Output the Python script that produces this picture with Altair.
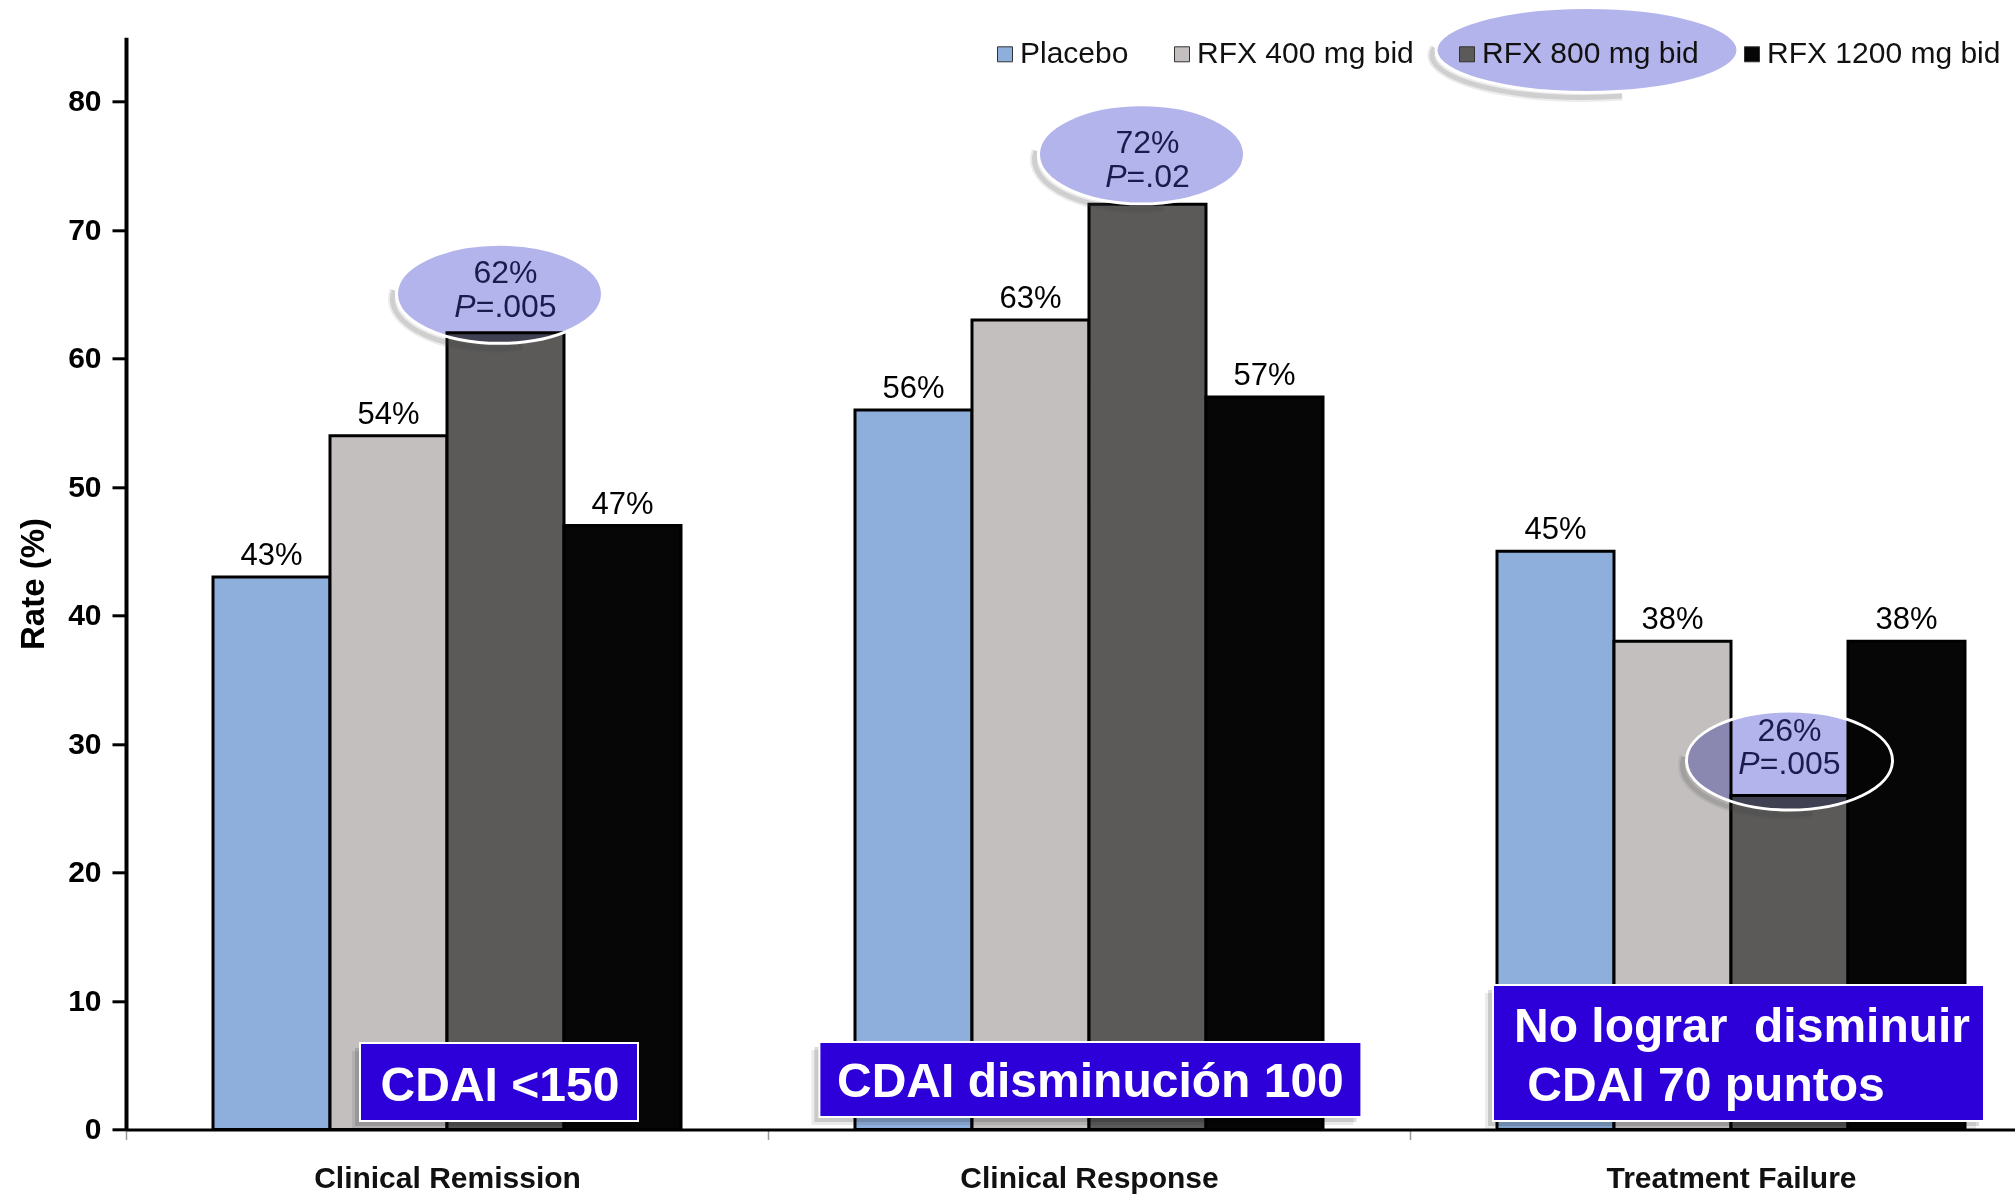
import math

import altair as alt
import pandas as pd

FONT = "Liberation Sans"
NAVY = "#1b1b4d"

# ---- data -----------------------------------------------------------------
categories = ["Clinical Remission", "Clinical Response", "Treatment Failure"]
series = ["Placebo", "RFX 400 mg bid", "RFX 800 mg bid", "RFX 1200 mg bid"]
placebo = [43, 56, 45]
rfx_400 = [54, 63, 38]
rfx_800 = [62, 72, 26]
rfx_1200 = [47, 57, 38]
p_800 = [".005", ".02", ".005"]
endpoint_notes = [
    "CDAI <150",
    "CDAI disminución 100",
    "No lograr\u00a0\u00a0disminuir\n\u00a0CDAI 70 puntos",
]
bar_colors = ["#8EAEDC", "#C3BFBF", "#5B5A59", "#060606"]
highlight = "RFX 800 mg bid"

rows = []
for s, vals in zip(series, [placebo, rfx_400, rfx_800, rfx_1200]):
    for c, v in zip(categories, vals):
        rows.append({"category": c, "series": s, "rate": v, "label": f"{v}%"})
df = pd.DataFrame(rows)

# ---- shared encodings -----------------------------------------------------
# each category band spans a full step; the gap between groups comes from the
# outer padding of the offset scale so that axis ticks sit between groups
x_enc = alt.X(
    "category:N",
    scale=alt.Scale(domain=categories, paddingInner=0, paddingOuter=0, range=[0, 1926]),
    axis=alt.Axis(
        title=None, labelAngle=0, labelFont=FONT, labelFontSize=30, labelFontWeight="bold",
        labelColor="#111111", labelPadding=24, labelLimit=600, tickBand="extent",
        tickSize=10, tickColor="#999999", tickWidth=1.5,
        domainColor="black", domainWidth=3, grid=False,
    ),
)
xo_enc = alt.XOffset(
    "series:N", scale=alt.Scale(domain=series, paddingInner=0, paddingOuter=0.7436)
)
y_enc = alt.Y(
    "rate:Q",
    scale=alt.Scale(domain=[0, 85], nice=False),
    axis=alt.Axis(
        values=[0, 10, 20, 30, 40, 50, 60, 70, 80], title="Rate (%)",
        labelFont=FONT, labelFontSize=30, labelFontWeight="bold", labelColor="black",
        labelPadding=11, tickSize=14, tickWidth=3, tickColor="black",
        domainColor="black", domainWidth=4, grid=False,
        titleFont=FONT, titleFontSize=33, titleFontWeight="bold", titleColor="black",
        titlePadding=17,
    ),
)


def ellipse_path(ry, cx=0.0):
    return (f"M{cx-1:.4f},0 A1,{ry:.4f} 0 1,1 {cx+1:.4f},0 "
            f"A1,{ry:.4f} 0 1,1 {cx-1:.4f},0 Z")


def shadow_arc(ry, dx, dy, a0=190, a1=75):
    """Lower-left arc of an offset ellipse, used as a soft drop shadow."""
    x0, y0 = dx + math.cos(math.radians(a0)), dy + ry * math.sin(math.radians(a0))
    x1, y1 = dx + math.cos(math.radians(a1)), dy + ry * math.sin(math.radians(a1))
    return f"M{x0:.4f},{y0:.4f} A1,{ry:.4f} 0 0,0 {x1:.4f},{y1:.4f}"


def rect_path(ry):
    return f"M-1,{-ry:.4f} L1,{-ry:.4f} L1,{ry:.4f} L-1,{ry:.4f} Z"


CHAR_W = {".": 0.278, "=": 0.584, "%": 0.889, "P": 0.667, "\u00a0": 0.278}


def text_width(s, size):
    return sum(CHAR_W.get(ch, 0.556) for ch in s) * size


def ellipse_layers(base, enc, w, h, x_shift=None, y_shift=0, path_dx=0.0):
    """Lavender highlight ellipse: multiplied fill, soft shadow, white rim."""
    ry = h / w
    r = w / 2
    cx = path_dx / r
    shift = {"yOffset": y_shift}
    if x_shift is not None:
        shift["xOffset"] = x_shift
    out = [
        base.mark_point(
            shape=ellipse_path(ry, cx), size=w ** 2, filled=True, color="#B4B4EC",
            opacity=1, strokeWidth=0, blend="multiply", **shift,
        ).encode(**enc)
    ]
    for sw, op in [(9, 0.10), (5, 0.16)]:
        out.append(base.mark_point(
            shape=shadow_arc(ry, cx - 4 / r, 5 / r), size=w ** 2, filled=False,
            color="#444444", strokeWidth=sw, opacity=op, **shift,
        ).encode(**enc))
    out.append(base.mark_point(
        shape=ellipse_path(ry, cx), size=w ** 2, filled=False, color="white",
        strokeWidth=3, opacity=1, **shift,
    ).encode(**enc))
    return out


layers = []

# ---- bars -----------------------------------------------------------------
bars = alt.Chart(df).mark_bar(stroke="black", strokeWidth=3).encode(
    x=x_enc,
    xOffset=xo_enc,
    y=y_enc,
    color=alt.Color(
        "series:N",
        scale=alt.Scale(domain=series, range=bar_colors),
        legend=alt.Legend(
            title=None, orient="none", legendX=864, legendY=2, direction="horizontal",
            symbolType="square", symbolSize=225, symbolStrokeColor="#333333",
            symbolStrokeWidth=1, symbolOpacity=1, labelFont=FONT, labelFontSize=30,
            labelColor="#111111", labelOffset=0, labelLimit=600, columnPadding=38, padding=0,
        ),
    ),
)
layers.append(bars)

# value labels above the non-highlighted bars
labels = alt.Chart(df).transform_filter(alt.datum.series != highlight).mark_text(
    font=FONT, fontSize=31, color="black", baseline="alphabetic", dy=-12
).encode(x=x_enc, xOffset=xo_enc, y=y_enc, text="label:N")
layers.append(labels)

# ---- endpoint boxes at the foot of each group -------------------------------
box_style = [
    # width, height, x shift, y shift, text align, text dx, text dy
    (278, 78, 52, -47.6, "center", 53, -29),
    (542, 75, 1.4, -50, "center", 1.4, -32.6),
    (491, 136, 7.5, -76.6, "left", -217, -87.6),
]
LINE_H = 59
for cat, note, (bw, bh, bx, by, al, tdx, tdy) in zip(categories, endpoint_notes, box_style):
    bdf = pd.DataFrame([{"category": cat, "rate": 0}])
    base = alt.Chart(bdf)
    path = rect_path(bh / bw)
    for off, op in [(8, 0.08), (5, 0.14)]:
        layers.append(base.mark_point(
            shape=path, size=bw ** 2, filled=True, color="black", opacity=op,
            strokeWidth=0, xOffset=bx - off, yOffset=by + off,
        ).encode(x=x_enc, y=y_enc))
    layers.append(base.mark_point(
        shape=path, size=bw ** 2, filled=True, color="#2D00DA", stroke="white",
        strokeWidth=2, opacity=1, xOffset=bx, yOffset=by,
    ).encode(x=x_enc, y=y_enc))
    # one text mark per line; a leading space becomes an indent
    for i, line in enumerate(note.split("\n")):
        body = line.lstrip("\u00a0")
        indent = text_width(line[: len(line) - len(body)], 48)
        layers.append(base.mark_text(
            font=FONT, fontSize=48, fontWeight="bold", color="white", align=al,
            baseline="alphabetic", dx=tdx + indent, dy=tdy + i * LINE_H,
        ).encode(x=x_enc, y=y_enc, text=alt.value(body)))

# ---- highlight ellipses over the RFX 800 bars ------------------------------
ELL_W, ELL_H = 206, 99
# ellipse y shift, ellipse x shift, first / second text line y shift
ell_style = [(-39, -6, -50, -16), (-50, -6, -51, -17), (-35, 0, -54, -21)]
for cat, val, p, (edy, edx, t1, t2) in zip(categories, rfx_800, p_800, ell_style):
    edf = pd.DataFrame([{"category": cat, "series": highlight, "rate": val,
                         "pct": f"{val}%", "p": "=" + p}])
    base = alt.Chart(edf)
    enc = dict(x=x_enc, xOffset=xo_enc, y=y_enc)
    layers.extend(ellipse_layers(base, enc, ELL_W, ELL_H, y_shift=edy, path_dx=edx))
    layers.append(base.mark_text(
        font=FONT, fontSize=32, color=NAVY, baseline="alphabetic", dy=t1,
    ).encode(text="pct:N", **enc))
    wp = text_width("P", 32)
    wr = text_width("=" + p, 32)
    split = -(wp + wr) / 2 + wp
    layers.append(base.mark_text(
        font=FONT, fontSize=32, fontStyle="italic", color=NAVY, baseline="alphabetic",
        align="right", dx=split, dy=t2,
    ).encode(text=alt.value("P"), **enc))
    layers.append(base.mark_text(
        font=FONT, fontSize=32, color=NAVY, baseline="alphabetic",
        align="left", dx=split, dy=t2,
    ).encode(text="p:N", **enc))

# ---- highlight ellipse around the RFX 800 legend entry ----------------------
ldf = pd.DataFrame([{"category": categories[2], "rate": 85}])
layers.extend(ellipse_layers(alt.Chart(ldf), dict(x=x_enc, y=y_enc), 302, 85,
                             x_shift=-144, y_shift=12.7))

chart = alt.layer(*layers).properties(
    width=1889,
    height=1092.3,
    autosize=alt.AutoSizeParams(type="none"),
    padding={"left": 126, "top": 37.3, "right": 0, "bottom": 65.4},
    background="white",
).configure_view(stroke=None)

chart.save("out.html", embed_options={"renderer": "svg", "actions": False})
